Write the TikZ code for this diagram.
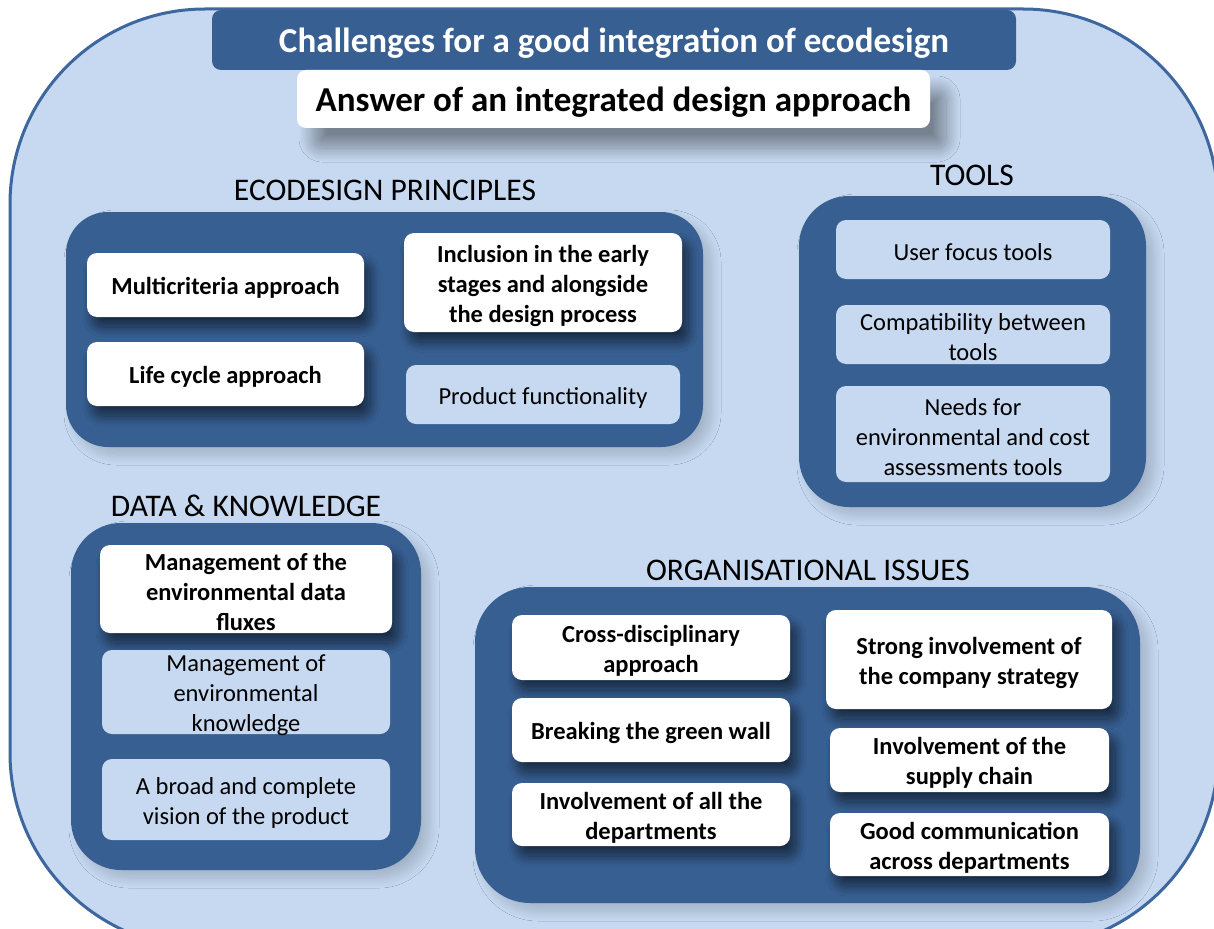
\documentclass[tikz,border=0pt]{standalone}
\usepackage{fontspec}
\setmainfont{Carlito}
\usetikzlibrary{shadows.blur}
\definecolor{dblue}{HTML}{375F92}
\definecolor{lblue}{HTML}{C6D9F1}
\definecolor{oborder}{HTML}{3D679E}
\newcommand{\bodyb}{\fontsize{24.5}{30}\selectfont\bfseries}
\newcommand{\bodyr}{\fontsize{24.5}{30}\selectfont}
\newcommand{\hdrf}{\fontsize{31.5}{36}\selectfont}
\newcommand{\titlef}{\fontsize{35}{40}\selectfont\bfseries}
\tikzset{
  wbox/.style={fill=white, rounded corners=10pt, inner sep=0pt,
    blur shadow={shadow xshift=6pt, shadow yshift=-10pt, shadow blur radius=10pt, shadow opacity=55, shadow blur steps=20}},
  lbox/.style={fill=lblue, rounded corners=10pt, inner sep=0pt},
  grp/.style={fill=dblue, inner sep=0pt,
    blur shadow={shadow xshift=8pt, shadow yshift=-8pt, shadow blur radius=10pt, shadow opacity=18, shadow blur steps=20}},
  btxt/.style={align=center, font=\bodyb, inner sep=0pt},
  rtxt/.style={align=center, font=\bodyr, inner sep=0pt},
  hdr/.style={font=\hdrf, inner sep=0pt, text=black}
}
% text inside a box, slightly lowered
\newcommand{\intext}[4]{\node[#1] (#2-t) at ([yshift=-3pt]#2.center) {#4};}
\begin{document}
\begin{tikzpicture}[x=1pt,y=-1pt]
\useasboundingbox (0,0) rectangle (1214,928);
\begin{scope}
\clip (0,0) rectangle (1214,928);
\fill[white] (0,0) rectangle (1214,928);
\draw[line width=3pt, draw=oborder, fill=lblue, rounded corners=195pt] (10,9) rectangle (1218,948);
\end{scope}

% title
\node[fill=dblue, rounded corners=9pt, minimum width=804pt, minimum height=60pt, inner sep=0pt] (title) at (614,40) {};
\intext{text=white, font=\titlef, inner sep=0pt}{title}{}{Challenges for a good integration of ecodesign}
\node[fill=white, rounded corners=9pt, minimum width=633pt, minimum height=58pt, inner sep=0pt,
  blur shadow={shadow xshift=16pt, shadow yshift=-20pt, shadow blur radius=14pt, shadow opacity=40, shadow blur steps=24}]
  (answer) at (613.5,99) {};
\intext{font=\titlef, inner sep=0pt}{answer}{}{Answer of an integrated design approach}

% ECODESIGN PRINCIPLES
\node[hdr] (ecoh) at (385,190) {ECODESIGN PRINCIPLES};
\node[grp, rounded corners=42pt, minimum width=637pt, minimum height=235pt] (ecog) at (384.5,329.5) {};
\node[wbox, minimum width=277pt, minimum height=64pt] (multi) at (225.5,285) {};
\intext{btxt}{multi}{}{Multicriteria approach}
\node[wbox, minimum width=277pt, minimum height=64pt] (life) at (225.5,374) {};
\intext{btxt}{life}{}{Life cycle approach}
\node[wbox, minimum width=278pt, minimum height=99pt] (incl) at (543,282.5) {};
\intext{btxt}{incl}{}{Inclusion in the early\\stages and alongside\\the design process}
\node[lbox, minimum width=274pt, minimum height=59pt] (prod) at (543,394.5) {};
\intext{rtxt}{prod}{}{Product functionality}

% TOOLS
\node[hdr] (toolh) at (972,175) {TOOLS};
\node[grp, rounded corners=50pt, minimum width=347pt, minimum height=311pt] (toolg) at (972.5,351.5) {};
\node[lbox, minimum width=274pt, minimum height=59pt] (user) at (973,249.5) {};
\intext{rtxt}{user}{}{User focus tools}
\node[lbox, minimum width=274pt, minimum height=59pt] (compat) at (973,334.5) {};
\intext{rtxt}{compat}{}{Compatibility between\\tools}
\node[lbox, minimum width=274pt, minimum height=96pt] (needs) at (973,434) {};
\intext{rtxt}{needs}{}{Needs for\\environmental and cost\\assessments tools}

% DATA & KNOWLEDGE
\node[hdr] (datah) at (246,506) {DATA \& KNOWLEDGE};
\node[grp, rounded corners=50pt, minimum width=350pt, minimum height=347pt] (datag) at (246,696.5) {};
\node[wbox, minimum width=292pt, minimum height=88pt] (fluxes) at (246,589) {};
\intext{btxt}{fluxes}{}{Management of the\\environmental data\\fluxes}
\node[lbox, minimum width=288pt, minimum height=84pt] (know) at (246,692) {};
\intext{rtxt}{know}{}{Management of\\environmental\\knowledge}
\node[lbox, minimum width=288pt, minimum height=81pt] (broad) at (246,799.5) {};
\intext{rtxt}{broad}{}{A broad and complete\\vision of the product}

% ORGANISATIONAL ISSUES
\node[hdr] (orgh) at (808,570) {ORGANISATIONAL ISSUES};
\node[grp, rounded corners=55pt, minimum width=665pt, minimum height=316pt] (orgg) at (807.5,745) {};
\node[wbox, minimum width=278pt, minimum height=65pt] (cross) at (651,647.5) {};
\intext{btxt}{cross}{}{Cross-disciplinary\\approach}
\node[wbox, minimum width=278pt, minimum height=64pt] (green) at (651,730) {};
\intext{btxt}{green}{}{Breaking the green wall}
\node[wbox, minimum width=278pt, minimum height=63pt] (alldep) at (651,814.5) {};
\intext{btxt}{alldep}{}{Involvement of all the\\departments}
\node[wbox, minimum width=286pt, minimum height=99pt] (strong) at (969,659.5) {};
\intext{btxt}{strong}{}{Strong involvement of\\the company strategy}
\node[wbox, minimum width=279pt, minimum height=64pt] (supply) at (969.5,760) {};
\intext{btxt}{supply}{}{Involvement of the\\supply chain}
\node[wbox, minimum width=279pt, minimum height=63pt] (comm) at (969.5,844.5) {};
\intext{btxt}{comm}{}{Good communication\\across departments}
\end{tikzpicture}
\end{document}
